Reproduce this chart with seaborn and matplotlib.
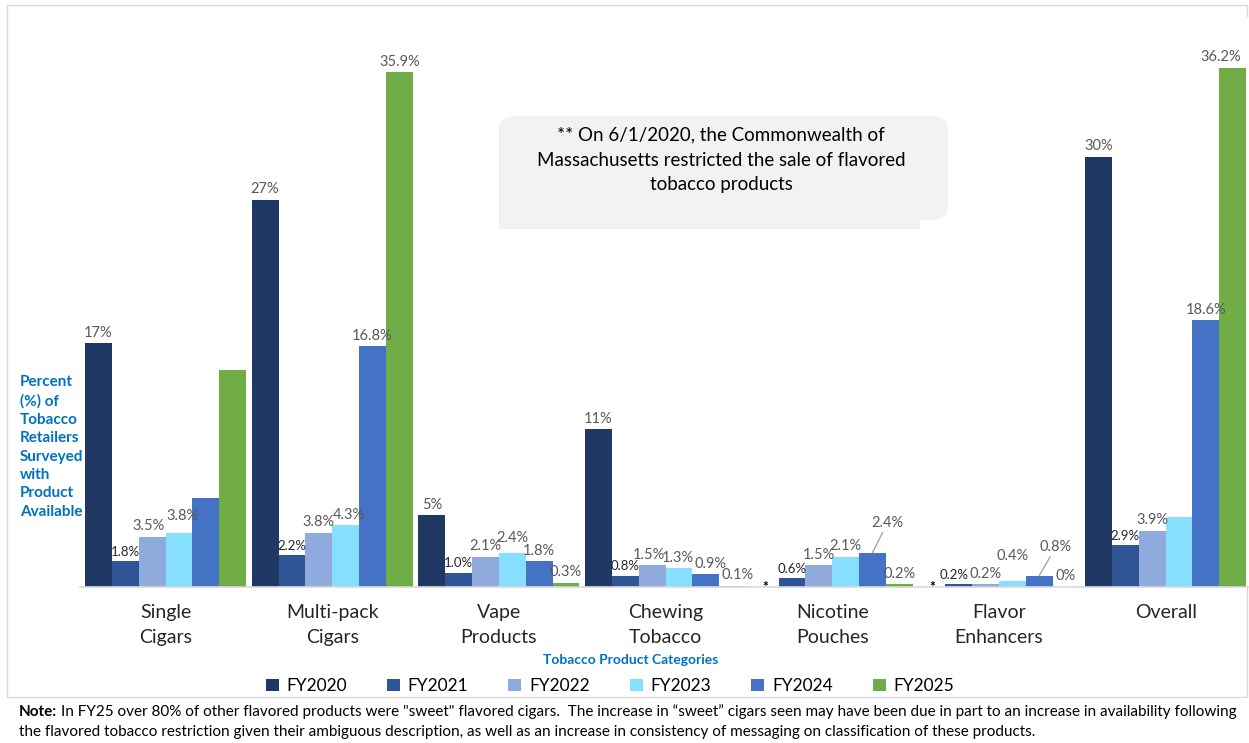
import numpy as np
import pandas as pd
import matplotlib
matplotlib.use("Agg")
import matplotlib.pyplot as plt
import seaborn as sns
from matplotlib.patches import FancyBboxPatch, Rectangle, Patch

# ---------------- data ----------------
categories = ["Single\nCigars", "Multi-pack\nCigars", "Vape\nProducts", "Chewing\nTobacco",
              "Nicotine\nPouches", "Flavor\nEnhancers", "Overall"]
years = ["FY2020", "FY2021", "FY2022", "FY2023", "FY2024", "FY2025"]

fy2020 = [17.0, 27.0, 5.0, 11.0, np.nan, np.nan, 30.0]
fy2021 = [1.8, 2.2, 1.0, 0.8, 0.6, 0.2, 2.9]
fy2022 = [3.5, 3.8, 2.1, 1.5, 1.5, 0.2, 3.9]
fy2023 = [3.8, 4.3, 2.4, 1.3, 2.1, 0.4, 4.9]
fy2024 = [6.2, 16.8, 1.8, 0.9, 2.4, 0.8, 18.6]
fy2025 = [15.1, 35.9, 0.3, 0.1, 0.2, 0.0, 36.2]

lab2020 = ["17%", "27%", "5%", "11%", "*", "*", "30%"]
lab2021 = ["1.8%", "2.2%", "1.0%", "0.8%", "0.6%", "0.2%", "2.9%"]
lab2022 = ["3.5%", "3.8%", "2.1%", "1.5%", "1.5%", "0.2%", "3.9%"]
lab2023 = ["3.8%", "4.3%", "2.4%", "1.3%", "2.1%", "0.4%", ""]
lab2024 = ["", "16.8%", "1.8%", "0.9%", "2.4%", "0.8%", "18.6%"]
lab2025 = ["", "35.9%", "0.3%", "0.1%", "0.2%", "0%", "36.2%"]

colors = ["#203864", "#2F5597", "#8FAADC", "#87DFFF", "#4472C4", "#70AD47"]

series = [fy2020, fy2021, fy2022, fy2023, fy2024, fy2025]
labels = [lab2020, lab2021, lab2022, lab2023, lab2024, lab2025]

df = pd.DataFrame({
    "Category": np.tile(categories, len(years)),
    "Year": np.repeat(years, len(categories)),
    "Value": np.concatenate(series),
})

# ---------------- figure ----------------
W, H = 1249, 743
fig = plt.figure(figsize=(W / 100, H / 100), dpi=100)
fig.patch.set_facecolor("white")
plt.rcParams["font.family"] = ["Lato", "DejaVu Sans"]


def fx(px):
    return px / W


def fy(py):
    return 1 - py / H


# outer frame
fig.add_artist(Rectangle((fx(7), fy(697)), fx(1247) - fx(7), fy(5) - fy(697),
                         transform=fig.transFigure, fill=False,
                         edgecolor="#D9D9D9", linewidth=1.0, zorder=0))

BW = 0.966
ax = fig.add_axes([fx(80), fy(587), 1 - fx(80), fy(17) - fy(587)])
sns.barplot(data=df, x="Category", y="Value", hue="Year", order=categories,
            hue_order=years, palette=colors, width=BW, gap=0,
            saturation=1, legend=False, ax=ax, errorbar=None, linewidth=0)

ax.set_xlim(-0.513, 6.5)
ax.set_ylim(0, 39.75)
ax.set_yticks([])
ax.set_ylabel("")
ax.set_xlabel("")
for s in ["top", "right", "left"]:
    ax.spines[s].set_visible(False)
ax.spines["bottom"].set_color("#D9D9D9")
ax.spines["bottom"].set_linewidth(1.2)
ax.tick_params(axis="x", length=0, pad=12, labelsize=14, labelcolor="#262626")
for t in ax.get_xticklabels():
    t.set_linespacing(1.6)

# ---------------- value labels ----------------
nser = len(years)
# small nudges (dx in category units, dy in data units) for crowded labels
nudge_x = {(1, 5): -0.03, (4, 3): 0.03, (3, 3): -0.01, (2, 3): -0.02,
           (3, 1): 0.02, (2, 0): -0.02, (3, 0): 0.02, (5, 3): 0.03}
nudge_y = {(3, 5): 1.0, (3, 0): 0.4, (3, 2): 0.3}
for si, (vals, labs) in enumerate(zip(series, labels)):
    for ci, (v, lab) in enumerate(zip(vals, labs)):
        if not lab:
            continue
        xc = ci - BW / 2 + (si + 0.5) * BW / nser
        h = 0 if np.isnan(v) else v
        if lab == "*":
            ax.text(xc, -0.45, "*", ha="center", va="bottom", fontsize=10,
                    color="#000000", fontweight="bold")
            continue
        dark = si == 1
        col = "#262626" if dark else "#595959"
        fs = 9.5 if dark else 10.5
        if si == 4 and ci in (4, 5):
            off = 1.6 if ci == 4 else 1.5
            dx = 0.09 if ci == 4 else 0.1
            ax.annotate(lab, xy=(xc, h), xytext=(xc + dx, h + off),
                        ha="center", va="bottom", fontsize=fs, color=col,
                        arrowprops=dict(arrowstyle="-", color="#A6A6A6", lw=1,
                                        shrinkA=0, shrinkB=0))
            continue
        xc += nudge_x.get((si, ci), 0)
        if si == 5 and ci == 6:
            xc -= 0.07
        ax.text(xc, h + 0.25 + nudge_y.get((si, ci), 0), lab, ha="center",
                va="bottom", fontsize=fs, color=col)

# ---------------- y label ----------------
fig.text(fx(20), fy(447),
         "Percent\n(%) of\nTobacco\nRetailers\nSurveyed\nwith\nProduct\nAvailable",
         ha="left", va="center", fontsize=11, fontweight="bold", color="#0070C0",
         linespacing=1.4)

# ---------------- x title ----------------
fig.text(fx(631), fy(660), "Tobacco Product Categories", ha="center", va="center",
         fontsize=10, fontweight="bold", color="#0070C0")

# ---------------- legend ----------------
handles = [Patch(facecolor=c, edgecolor="none") for c in colors]
fig.legend(handles, years, loc="center", bbox_to_anchor=(fx(610), fy(686)),
           ncol=6, frameon=False, fontsize=12.5, handlelength=0.75, handleheight=0.75,
           handletextpad=0.45, columnspacing=2.3)

# ---------------- callout box ----------------
box = FancyBboxPatch((fx(499), fy(220)), fx(948) - fx(499), fy(116) - fy(220),
                     boxstyle="round,pad=0,rounding_size=0.015",
                     transform=fig.transFigure, facecolor="#F2F2F2",
                     edgecolor="none", zorder=3)
fig.add_artist(box)
fig.add_artist(Rectangle((fx(499), fy(229)), fx(920) - fx(499), fy(205) - fy(229),
                         transform=fig.transFigure, facecolor="#F2F2F2",
                         edgecolor="none", zorder=3))
fig.text(fx(721), fy(160),
         "** On 6/1/2020, the Commonwealth of\nMassachusetts restricted the sale of flavored\ntobacco products",
         ha="center", va="center", fontsize=13.5, color="#000000", linespacing=1.55,
         zorder=4)

# ---------------- note ----------------
note1 = ("In FY25 over 80% of other flavored products were \"sweet\" flavored cigars.  "
         "The increase in \u201csweet\u201d cigars seen may have been due in part to an increase in "
         "availability following")
note2 = ("the flavored tobacco restriction given their ambiguous description, as well as an "
         "increase in consistency of messaging on classification of these products.")
nfs = 11
t0 = fig.text(fx(19), fy(712), "Note:", ha="left", va="center", fontsize=nfs,
              fontweight="bold")
t1 = fig.text(0, fy(712), note1, ha="left", va="center", fontsize=nfs)
t2 = fig.text(fx(19), fy(732), note2, ha="left", va="center", fontsize=nfs)
fig.canvas.draw()
r = fig.canvas.get_renderer()
total = t0.get_window_extent(r).width + 4 + t1.get_window_extent(r).width
target = 1230 - 19
scale = min(1.0, target / total)
for t in (t0, t1, t2):
    t.set_fontsize(nfs * scale)
fig.canvas.draw()
bb = t0.get_window_extent(r)
t1.set_x(bb.x1 / W + 4 / W)

fig.savefig("out.png", dpi=100, facecolor="white")
